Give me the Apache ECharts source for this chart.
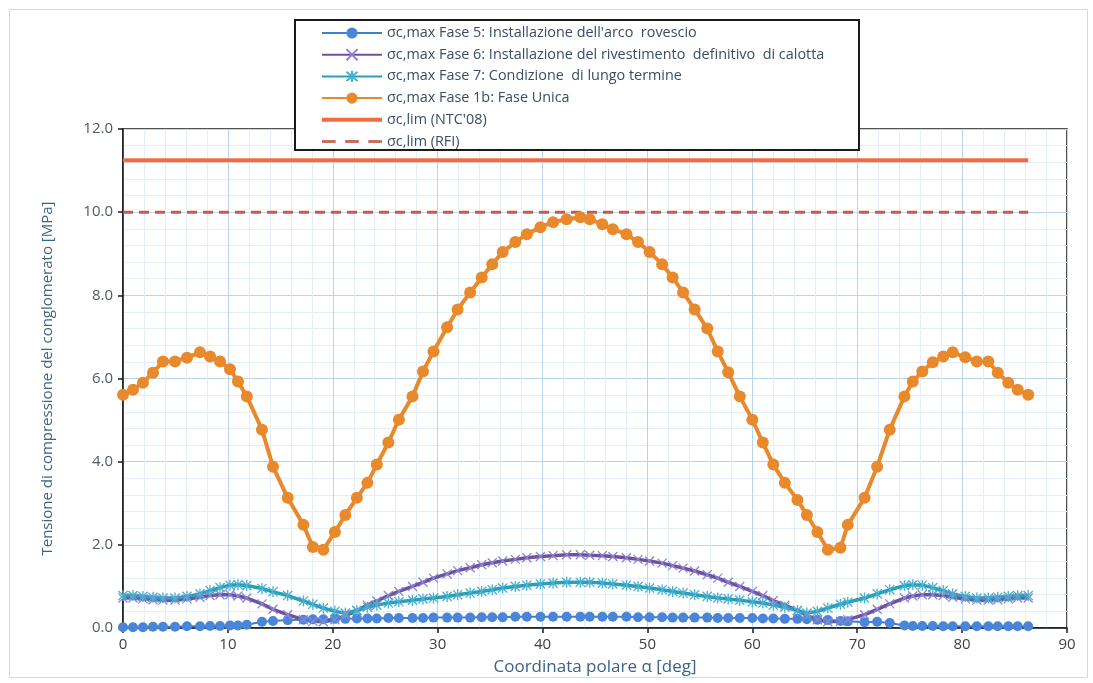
<!DOCTYPE html>
<html>
<head>
<meta charset="utf-8">
<script src="https://cdn.jsdelivr.net/npm/echarts@6/dist/echarts.min.js"></script>
<style>
html,body{margin:0;padding:0;background:#fff;}
#c{width:1093px;height:683px;}
</style>
</head>
<body>
<div id="c"></div>
<script>
// Polar coordinate α [deg] of each computed node
const angles = [0, 0.95, 1.9, 2.86, 3.81, 4.96, 6.1, 7.34, 8.3, 9.25, 10.2, 10.96, 11.8, 13.25, 14.3, 15.7, 17.2, 18.1, 19.1, 20.2, 21.2, 22.3, 23.3, 24.2, 25.3, 26.3, 27.6, 28.6, 29.6, 30.9, 31.9, 33.1, 34.2, 35.2, 36.2, 37.4, 38.5, 39.8, 41.0, 42.3, 43.6, 44.5, 45.7, 46.7, 48.0, 49.1, 50.2, 51.4, 52.4, 53.4, 54.5, 55.7, 56.7, 57.7, 58.8, 60.0, 61.0, 62.0, 63.1, 64.3, 65.2, 66.2, 67.2, 68.4, 69.1, 70.7, 71.9, 73.1, 74.5, 75.3, 76.2, 77.2, 78.2, 79.1, 80.3, 81.4, 82.5, 83.4, 84.4, 85.3, 86.3];

// σc,max Fase 5 [MPa]
const fase5 = [0.02, 0.02, 0.02, 0.03, 0.03, 0.03, 0.04, 0.04, 0.05, 0.05, 0.06, 0.06, 0.08, 0.15, 0.17, 0.19, 0.2, 0.21, 0.21, 0.22, 0.22, 0.23, 0.23, 0.23, 0.24, 0.24, 0.24, 0.24, 0.25, 0.25, 0.25, 0.25, 0.26, 0.26, 0.26, 0.27, 0.27, 0.27, 0.27, 0.27, 0.27, 0.27, 0.27, 0.27, 0.27, 0.26, 0.26, 0.26, 0.25, 0.25, 0.25, 0.25, 0.24, 0.24, 0.24, 0.24, 0.23, 0.23, 0.22, 0.22, 0.21, 0.2, 0.19, 0.17, 0.16, 0.14, 0.15, 0.12, 0.06, 0.05, 0.05, 0.05, 0.04, 0.04, 0.04, 0.04, 0.04, 0.04, 0.04, 0.04, 0.04];

// σc,max Fase 6 [MPa]
const fase6 = [0.72, 0.72, 0.7, 0.68, 0.67, 0.67, 0.7, 0.74, 0.78, 0.8, 0.8, 0.77, 0.72, 0.58, 0.45, 0.32, 0.2, 0.16, 0.15, 0.2, 0.3, 0.42, 0.55, 0.65, 0.78, 0.88, 1.0, 1.1, 1.2, 1.3, 1.38, 1.45, 1.52, 1.57, 1.61, 1.65, 1.69, 1.72, 1.74, 1.76, 1.76, 1.75, 1.74, 1.72, 1.69, 1.65, 1.61, 1.56, 1.5, 1.44, 1.37, 1.28, 1.2, 1.1, 1.0, 0.88, 0.78, 0.66, 0.55, 0.42, 0.3, 0.2, 0.15, 0.16, 0.2, 0.32, 0.45, 0.58, 0.72, 0.77, 0.8, 0.8, 0.78, 0.74, 0.7, 0.67, 0.67, 0.68, 0.7, 0.72, 0.72];

// σc,max Fase 7 [MPa]
const fase7 = [0.78, 0.78, 0.76, 0.74, 0.72, 0.72, 0.76, 0.82, 0.9, 0.97, 1.03, 1.04, 1.02, 0.95, 0.87, 0.78, 0.65, 0.57, 0.48, 0.4, 0.36, 0.42, 0.5, 0.55, 0.6, 0.63, 0.67, 0.7, 0.72, 0.76, 0.8, 0.84, 0.88, 0.92, 0.96, 1.0, 1.03, 1.06, 1.08, 1.1, 1.1, 1.1, 1.08, 1.06, 1.03, 1.0, 0.96, 0.92, 0.88, 0.84, 0.8, 0.76, 0.72, 0.7, 0.67, 0.63, 0.6, 0.55, 0.5, 0.42, 0.36, 0.4, 0.48, 0.57, 0.62, 0.72, 0.82, 0.92, 1.02, 1.04, 1.03, 0.97, 0.9, 0.82, 0.76, 0.72, 0.72, 0.74, 0.76, 0.78, 0.78];

// σc,max Fase 1b [MPa]
const fase1b = [5.61, 5.73, 5.9, 6.14, 6.41, 6.41, 6.5, 6.63, 6.53, 6.41, 6.22, 5.93, 5.57, 4.77, 3.88, 3.13, 2.48, 1.95, 1.88, 2.31, 2.72, 3.13, 3.49, 3.93, 4.46, 5.01, 5.57, 6.17, 6.65, 7.23, 7.66, 8.07, 8.43, 8.75, 9.04, 9.28, 9.47, 9.64, 9.76, 9.83, 9.88, 9.83, 9.71, 9.59, 9.47, 9.28, 9.04, 8.75, 8.43, 8.07, 7.66, 7.2, 6.65, 6.15, 5.57, 5.01, 4.46, 3.93, 3.49, 3.08, 2.72, 2.31, 1.88, 1.93, 2.48, 3.13, 3.88, 4.77, 5.57, 5.93, 6.17, 6.39, 6.53, 6.63, 6.51, 6.41, 6.41, 6.14, 5.9, 5.73, 5.61];

// limits [MPa]
const limNTC = 11.25;
const limRFI = 10.0;
const limRange = [0, 86.3];

const seriesNames = [
  "σc,max Fase 5: Installazione dell'arco  rovescio",
  "σc,max Fase 6: Installazione del rivestimento  definitivo  di calotta",
  "σc,max Fase 7: Condizione  di lungo termine",
  "σc,max Fase 1b: Fase Unica",
  "σc,lim (NTC'08)",
  "σc,lim (RFI)"
];

const xAxisName = "Coordinata polare α [deg]";
const yAxisName = "Tensione di compressione del conglomerato [MPa]";

function pairs(xs, ys){ return xs.map((x,i)=>[x, ys[i]]); }

const X_PATH = 'path://M0 0L10 10M10 0L0 10';
const AST_PATH = 'path://M0 0L10 10M10 0L0 10M5 -1L5 11';
const SOLID_ICON = 'path://M0 0H60V4H0Z';
const DASH_ICON = 'path://M0 0H13V3H0ZM22 0H35V3H22ZM44 0H57V3H44Z';

const chart = echarts.init(document.getElementById('c'), null, {renderer:'canvas'});
const font = "'Open Sans', 'Liberation Sans', sans-serif";

chart.setOption({
  backgroundColor: '#ffffff',
  animation: false,
  textStyle: {fontFamily: font},
  grid: {left: 123, right: 26, top: 129, bottom: 55, show: true, borderColor: '#1a1a1a', borderWidth: 1.5, backgroundColor: 'transparent'},
  graphic: [
    {type:'rect', left: 7, top: 7, shape:{width:1078, height:668}, style:{fill:'none', stroke:'#d8d8d8', lineWidth:1}, z: -1},
    {type:'rect', shape:{x:295, y:20, width:564, height:130}, style:{fill:'#ffffff', stroke:'#1a1a1a', lineWidth:2}, z: 10}
  ],
  legend: {
    orient: 'vertical',
    left: 321, top: 26,
    itemWidth: 60, itemHeight: 14, itemGap: 7.7,
    padding: 0,
    z: 20,
    textStyle: {fontFamily: font, fontSize: 14.4, color: '#3a4d63'},
    data: [
      {name: seriesNames[0]},
      {name: seriesNames[1]},
      {name: seriesNames[2]},
      {name: seriesNames[3]},
      {name: seriesNames[4], icon: SOLID_ICON, itemStyle: {color: '#f26b43'}},
      {name: seriesNames[5], icon: DASH_ICON, itemStyle: {color: '#c8705f'}}
    ]
  },
  xAxis: {
    type: 'value', min: 0, max: 90, interval: 10,
    name: xAxisName, nameLocation: 'middle', nameGap: 31,
    nameTextStyle: {fontSize: 17, color: '#3c6286', fontFamily: font},
    axisLine: {show: true, lineStyle: {color: '#1a1a1a', width: 1.5}},
    axisTick: {show: true, inside: false, length: 5, lineStyle: {color: '#1a1a1a', width: 1.5}},
    axisLabel: {fontSize: 15, color: '#404040', margin: 9},
    splitLine: {show: true, lineStyle: {color: '#b8d6ea', width: 1}},
    minorTick: {show: false, splitNumber: 5},
    minorSplitLine: {show: true, lineStyle: {color: '#e3eef6', width: 1}}
  },
  yAxis: {
    type: 'value', min: 0, max: 12, interval: 2,
    name: yAxisName, nameLocation: 'middle', nameGap: 68, nameRotate: 90,
    nameTextStyle: {fontSize: 15, color: '#3c6286', fontFamily: font},
    axisLine: {show: true, lineStyle: {color: '#1a1a1a', width: 1.5}},
    axisTick: {show: true, inside: false, length: 5, lineStyle: {color: '#1a1a1a', width: 1.5}},
    axisLabel: {fontSize: 15, color: '#505a66', margin: 10, formatter: v => v.toFixed(1)},
    splitLine: {show: true, lineStyle: {color: '#b8d6ea', width: 1}},
    minorTick: {show: false, splitNumber: 5},
    minorSplitLine: {show: true, lineStyle: {color: '#e3eef6', width: 1}}
  },
  series: [
    {
      name: seriesNames[0], type: 'line', data: pairs(angles, fase5),
      symbol: 'circle', symbolSize: 10,
      lineStyle: {color: '#3d7fd1', width: 2},
      itemStyle: {color: '#4a86d8'}
    },
    {
      name: seriesNames[1], type: 'line', data: pairs(angles, fase6),
      symbol: X_PATH, symbolSize: 9, symbolKeepAspect: true,
      lineStyle: {color: '#6f519f', width: 3.5},
      itemStyle: {color: 'rgba(0,0,0,0)', borderColor: '#8b86d0', borderWidth: 1.3}
    },
    {
      name: seriesNames[2], type: 'line', data: pairs(angles, fase7),
      symbol: AST_PATH, symbolSize: 11, symbolKeepAspect: true,
      lineStyle: {color: '#2b9fb7', width: 3.5},
      itemStyle: {color: 'rgba(0,0,0,0)', borderColor: '#48b0d0', borderWidth: 1.3}
    },
    {
      name: seriesNames[3], type: 'line', data: pairs(angles, fase1b),
      symbol: 'circle', symbolSize: 12,
      lineStyle: {color: '#e8892c', width: 4},
      itemStyle: {color: '#e8892c'}
    },
    {
      name: seriesNames[4], type: 'line', data: limRange.map(x => [x, limNTC]),
      symbol: 'none', lineStyle: {color: '#f26b43', width: 4},
      itemStyle: {color: '#f26b43'}
    },
    {
      name: seriesNames[5], type: 'line', data: limRange.map(x => [x, limRFI]),
      symbol: 'none', lineStyle: {color: '#c85a4c', width: 3, type: [10, 6]},
      itemStyle: {color: '#c85a4c'}
    }
  ]
});
</script>
</body>
</html>
